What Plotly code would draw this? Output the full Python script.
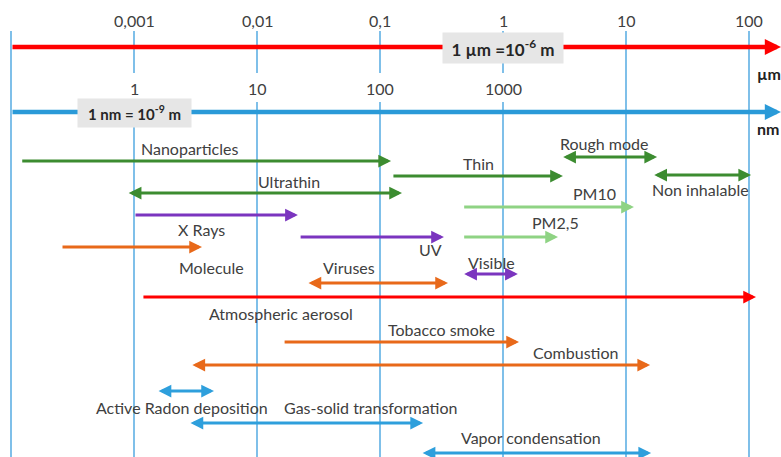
import numpy as np
import plotly.graph_objects as go

# ---------------- data (sizes in micrometres) ----------------
names = ["Nanoparticles", "Ultrathin", "Thin", "Rough mode", "Non inhalable",
         "PM10", "PM2,5", "X Rays", "UV", "Molecule", "Viruses", "Visible",
         "Atmospheric aerosol", "Tobacco smoke", "Combustion",
         "Active Radon deposition", "Gas-solid transformation", "Vapor condensation"]
start_um = [0.00012, 0.00088, 0.125, 3.0, 16.5,
            0.47, 0.47, 0.001, 0.022, 0.000255, 0.0255, 0.47,
            0.00116, 0.0163, 0.0029,
            0.00154, 0.0028, 0.216]
end_um = [0.123, 0.151, 3.07, 17.9, 104,
          11.6, 2.8, 0.0215, 0.331, 0.00357, 0.357, 1.32,
          114, 1.35, 15.7,
          0.00447, 0.224, 16.0]
double_headed = [False, True, False, True, True,
                 False, False, False, False, False, True, True,
                 False, False, True,
                 True, True, True]
groups = ["size", "size", "size", "size", "size",
          "pm", "pm", "radiation", "radiation", "matter", "matter", "radiation",
          "aerosol", "matter", "matter",
          "process", "process", "process"]

um_ticks = [0.001, 0.01, 0.1, 1, 10, 100]
um_tick_labels = ["0,001", "0,01", "0,1", "1", "10", "100"]
nm_ticks = [1, 10, 100, 1000]
nm_tick_labels = ["1", "10", "100", "1000"]
axis_min_um = 0.0001
axis_max_um = 182

# ---------------- layout (rows in pixels from top, label anchors) ----------------
row_y = [161, 193, 176, 157, 175, 207, 237, 215, 237, 247, 283, 274, 297, 342, 365, 391, 423, 453]
label_x_um = [0.00285, 0.0182, 0.638, 6.62, 40.0, 5.5, 2.65, 0.00357, 0.255, 0.00423,
              0.056, 0.799, 0.0157, 0.319, 3.85, 0.00246, 0.083, 1.69]
label_y = [148, 181, 163, 143, 189, 193, 222, 229, 249, 267, 267, 262, 313, 329, 352, 407, 407, 437]

colors = {"size": "#3c8c30", "pm": "#8fd384", "radiation": "#7b35bf",
          "matter": "#e8691a", "aerosol": "#ff0000", "process": "#2e9fdc"}
grid_color = "#5fb0e4"
text_color = "#404040"
FONT = "Lato"

W, H = 781, 457
px_per_dec = 123.0
x_range = [np.log10(axis_min_um) - 11 / px_per_dec, np.log10(axis_min_um) + 770 / px_per_dec]

fig = go.Figure()

# vertical grid lines (gaps where nm tick labels sit)
gx, gy = [], []
for v in [axis_min_um] + um_ticks:
    has_nm = any(abs(np.log10(n / 1000.0) - np.log10(v)) < 1e-9 for n in nm_ticks)
    if has_nm:
        gx += [v, v, None, v, v, None]
        gy += [31, 73, None, 102, H, None]
    else:
        gx += [v, v, None]
        gy += [31, H, None]
fig.add_trace(go.Scatter(x=gx, y=gy, mode="lines",
                         line=dict(color=grid_color, width=1.6),
                         hoverinfo="skip", showlegend=False))

annotations = []

# main scale arrows
for yy, col in [(47, "#ff0000"), (112, "#2a9ad8")]:
    annotations.append(dict(x=np.log10(axis_max_um), y=yy, ax=np.log10(axis_min_um), ay=yy,
                            xref="x", yref="y", axref="x", ayref="y", text="",
                            showarrow=True, arrowhead=2, arrowsize=0.72, arrowwidth=4.5,
                            arrowcolor=col, standoff=0, startstandoff=0))

# tick labels
for v, t in zip(um_ticks, um_tick_labels):
    annotations.append(dict(x=np.log10(v), y=20, xref="x", yref="y", text=t, showarrow=False,
                            font=dict(family=FONT, size=16, color=text_color)))
for v, t in zip(nm_ticks, nm_tick_labels):
    annotations.append(dict(x=np.log10(v / 1000.0), y=88, xref="x", yref="y", text=t, showarrow=False,
                            font=dict(family=FONT, size=16, color=text_color)))

# unit labels
annotations.append(dict(x=x_range[0] + 755 / px_per_dec, y=73, xref="x", yref="y", text="<b>µm</b>",
                        xanchor="left", showarrow=False, font=dict(family=FONT, size=16, color="#222222")))
annotations.append(dict(x=x_range[0] + 755 / px_per_dec, y=128, xref="x", yref="y", text="<b>nm</b>",
                        xanchor="left", showarrow=False, font=dict(family=FONT, size=16, color="#222222")))

# boxes
annotations.append(dict(x=0, y=48, xref="x", yref="y", text="<b>1 µm =10<sup>-6</sup> m</b>",
                        showarrow=False, bgcolor="#e6e6e6", width=116, height=26, borderpad=2,
                        font=dict(family=FONT, size=17, color="#262626")))
annotations.append(dict(x=-3, y=113, xref="x", yref="y", text="<b>1 nm = 10<sup>-9</sup> m</b>",
                        showarrow=False, bgcolor="#e6e6e6", width=109, height=24, borderpad=2,
                        font=dict(family=FONT, size=15, color="#262626")))

# range arrows and labels
for n, s, e, d, g, yy, lx, ly in zip(names, start_um, end_um, double_headed, groups,
                                     row_y, label_x_um, label_y):
    col = colors[g]
    annotations.append(dict(x=np.log10(e), y=yy, ax=np.log10(s), ay=yy,
                            xref="x", yref="y", axref="x", ayref="y", text="",
                            showarrow=True, arrowhead=2, arrowsize=0.85, arrowwidth=3,
                            arrowside="end+start" if d else "end",
                            arrowcolor=col, standoff=0, startstandoff=0))
    annotations.append(dict(x=np.log10(lx), y=ly, xref="x", yref="y", text=n, showarrow=False,
                            font=dict(family=FONT, size=16, color=text_color)))

fig.update_layout(
    width=W, height=H,
    margin=dict(l=0, r=0, t=0, b=0),
    paper_bgcolor="white", plot_bgcolor="white",
    xaxis=dict(type="log", range=x_range, visible=False, fixedrange=True),
    yaxis=dict(range=[H, 0], visible=False, fixedrange=True),
    annotations=annotations,
    showlegend=False,
)

fig.write_html("out.html", config={"displayModeBar": False},
               post_script="document.body.style.margin='0';document.body.style.overflow='hidden';")
